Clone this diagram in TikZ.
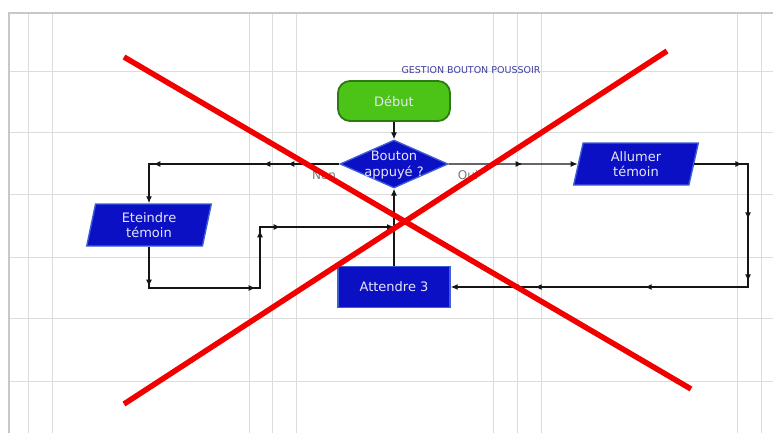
\documentclass[tikz,border=0pt]{standalone}
\usepackage{fontspec}
\setmainfont{DejaVu Sans}
\usetikzlibrary{shapes.geometric, arrows.meta, decorations.markings}
\definecolor{gridc}{HTML}{DCDCDC}
\definecolor{framec}{HTML}{C8C8C8}
\definecolor{bluefill}{HTML}{0C10C4}
\definecolor{blueedge}{HTML}{3F5FD6}
\definecolor{greenfill}{HTML}{4CC417}
\definecolor{greenedge}{HTML}{2E7A12}
\definecolor{ntext}{HTML}{E4E6F4}
\definecolor{linec}{HTML}{151515}
\definecolor{lblc}{HTML}{7A7A7A}
\definecolor{titlec}{HTML}{3E3E9C}
\definecolor{redx}{HTML}{F20000}
\tikzset{
  gridline/.style={draw=gridc, line width=0.9pt},
  frameline/.style={draw=framec, line width=1.2pt},
  nodetext/.style={text=ntext, font=\fontsize{13}{15.5}\selectfont, align=center},
  startbox/.style={nodetext, rectangle, rounded corners=12pt, fill=greenfill, draw=greenedge, line width=1.8pt,
    minimum width=112pt, minimum height=40pt, text=ntext},
  decbox/.style={diamond, fill=bluefill, draw=blueedge, line width=1.3pt, minimum width=108pt, minimum height=48pt, inner sep=0pt},
  iobox/.style={nodetext, trapezium, trapezium left angle=80, trapezium right angle=100, trapezium stretches=true,
    fill=bluefill, draw=blueedge, line width=1.4pt, minimum width=125pt, minimum height=42pt, inner sep=0pt},
  procbox/.style={nodetext, rectangle, fill=bluefill, draw=blueedge, line width=1.4pt, minimum width=112pt, minimum height=41pt},
  conn/.style={draw=linec, line width=1.3pt, -{Latex[length=7pt,width=6pt]}},
  mk/.style={postaction={decorate, decoration={markings, mark=at position #1 with {\arrow{Latex[length=7pt,width=6pt]}}}}},
  lbl/.style={text=lblc, font=\fontsize{12}{14}\selectfont, inner sep=0pt},
  titletext/.style={text=titlec, font=\fontsize{9.5}{11}\selectfont, inner sep=0pt},
  redline/.style={draw=redx, line width=5.5pt}
}
\begin{document}
\begin{tikzpicture}[x=1pt, y=-1pt]
\useasboundingbox (0,0) rectangle (773,433);
\fill[white] (0,0) rectangle (773,433);
% grid
\foreach \x in {28.5,52.5,249.5,272.5,296.5,493,517,541,737.5,761.5}
  \draw[gridline] (\x,13) -- (\x,433);
\foreach \y in {71,132,194,257,318,381}
  \draw[gridline] (9,\y) -- (773,\y);
\draw[frameline] (9,433) -- (9,13) -- (773,13);

% title
\node[titletext] (title) at (471,70) {GESTION BOUTON POUSSOIR};

% nodes
\node[startbox] (debut) at (394,101) {Début};
\node[decbox] (q) at (394,164) {};
\node[nodetext, inner sep=0pt] (qt) at (394,165) {Bouton\\appuyé ?};
\node[iobox] (allumer) at (636,164) {Allumer\\témoin};
\node[iobox] (eteindre) at (149,225) {Eteindre\\témoin};
\node[procbox] (att) at (394,287) {Attendre 3};

\coordinate (j) at (394,227);
\coordinate (c1) at (260,288);
\coordinate (c2) at (748,287);

% connectors
\draw[conn] (debut.south) -- (q.north);
\draw[conn] (att.north) -- (q.south);
\draw[conn, mk=52pt, mk=76pt, mk=186pt] (q.west) -| (eteindre.north);
\draw[conn, mk=40pt, mk=148pt, mk=210pt, mk=234pt] (eteindre.south) |- (c1) |- (j);
\draw[conn, mk=51pt, mk=74pt] (q.east) -- (allumer.west);
\draw[conn, mk=48pt, mk=109pt, mk=171pt, mk=280pt, mk=390pt, mk=413pt] (allumer.east) -| (c2) -- (att.east);

% labels
\node[lbl] (non) at (324,175) {Non};
\node[lbl] (oui) at (468,175) {Oui};

% red cross
\draw[redline] (124,57) -- (691,389);
\draw[redline] (667,51) -- (124,404);
\end{tikzpicture}
\end{document}
